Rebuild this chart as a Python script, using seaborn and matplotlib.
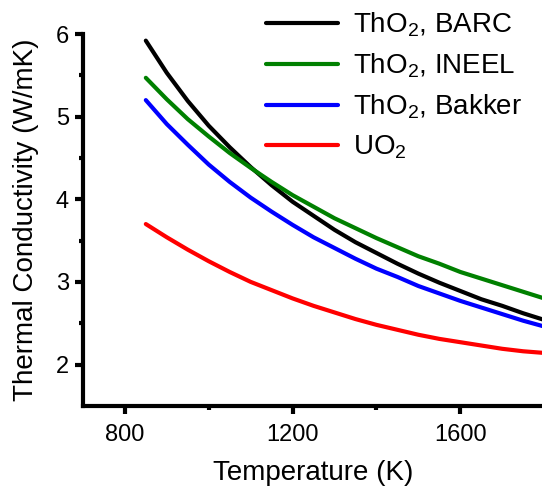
import pandas as pd
import matplotlib
matplotlib.use('Agg')
import matplotlib.pyplot as plt
import seaborn as sns

# temperatures (K) and conductivity values (W/mK)
temperature = [850, 900, 950, 1000, 1050, 1100, 1150, 1200, 1250, 1300,
               1350, 1400, 1450, 1500, 1550, 1600, 1650, 1700, 1750, 1800]
tho2_barc = [5.92, 5.53, 5.19, 4.89, 4.63, 4.39, 4.17, 3.97, 3.80, 3.63,
             3.48, 3.35, 3.22, 3.10, 2.99, 2.89, 2.79, 2.71, 2.62, 2.54]
tho2_ineel = [5.47, 5.21, 4.97, 4.76, 4.56, 4.38, 4.21, 4.05, 3.91, 3.77,
              3.65, 3.53, 3.42, 3.31, 3.22, 3.12, 3.04, 2.96, 2.88, 2.80]
tho2_bakker = [5.20, 4.91, 4.66, 4.42, 4.21, 4.02, 3.85, 3.69, 3.54, 3.41,
               3.28, 3.16, 3.06, 2.95, 2.86, 2.77, 2.69, 2.61, 2.53, 2.46]
uo2 = [3.70, 3.54, 3.39, 3.25, 3.12, 3.00, 2.90, 2.80, 2.71, 2.63,
       2.55, 2.48, 2.42, 2.36, 2.31, 2.27, 2.23, 2.19, 2.16, 2.14]

labels = ['ThO$_2$, BARC', 'ThO$_2$, INEEL', 'ThO$_2$, Bakker', 'UO$_2$']
colors = ['black', '#008000', '#0000ff', '#ff0000']

frames = []
for lab, vals in zip(labels, [tho2_barc, tho2_ineel, tho2_bakker, uo2]):
    frames.append(pd.DataFrame({'T': temperature, 'k': vals, 'Material': lab}))
data = pd.concat(frames, ignore_index=True)

sns.set_style('ticks')
plt.rcParams['font.family'] = ['Liberation Sans', 'DejaVu Sans']
plt.rcParams['mathtext.fontset'] = 'custom'
plt.rcParams['mathtext.rm'] = 'Liberation Sans'
plt.rcParams['mathtext.it'] = 'Liberation Sans'
plt.rcParams['text.color'] = 'black'
plt.rcParams['axes.labelcolor'] = 'black'
plt.rcParams['axes.edgecolor'] = 'black'
plt.rcParams['xtick.color'] = 'black'
plt.rcParams['ytick.color'] = 'black'

fig = plt.figure(figsize=(5.42, 4.86), dpi=100)
ax = fig.add_axes([0.153, 0.165, 0.851, 0.765])

sns.lineplot(data=data, x='T', y='k', hue='Material', palette=colors,
             linewidth=3, ax=ax)

ax.set_xlim(700, 1800)
ax.set_ylim(1.5, 6)
ax.set_xticks([800, 1200, 1600])
ax.set_xticks([1000, 1400], minor=True)
ax.set_yticks([2, 3, 4, 5, 6])
ax.set_yticks([2.5, 3.5, 4.5, 5.5], minor=True)

for side in ['top', 'right']:
    ax.spines[side].set_visible(False)
for side in ['left', 'bottom']:
    ax.spines[side].set_linewidth(3)
ax.tick_params(which='major', direction='out', length=6, width=3, labelsize=17)
ax.tick_params(axis='x', which='major', pad=7)
ax.tick_params(axis='y', which='major', pad=4)
ax.tick_params(which='minor', direction='out', length=3, width=3)

ax.set_xlabel('Temperature (K)', fontsize=20, labelpad=10)
ax.set_ylabel('Thermal Conductivity (W/mK)', fontsize=20, labelpad=12)

ax.legend(title=None, frameon=False, fontsize=20, loc='upper left',
          bbox_to_anchor=(0.49, 0.978), bbox_transform=fig.transFigure,
          handlelength=2.6, handletextpad=0.55, labelspacing=0.45,
          borderpad=0, borderaxespad=0)

fig.savefig('out.png', dpi=100)
